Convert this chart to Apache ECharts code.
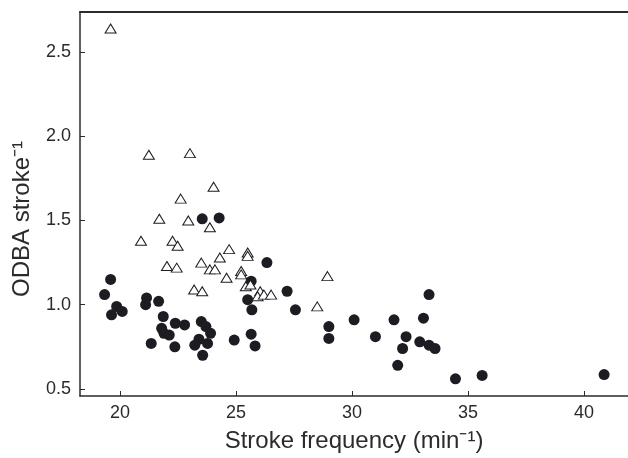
<!DOCTYPE html>
<html>
<head>
<meta charset="utf-8">
<script src="https://cdn.jsdelivr.net/npm/echarts@6/dist/echarts.min.js"></script>
<style>
html,body{margin:0;padding:0;background:#fff;}
#chart{width:628px;height:458px;}
</style>
</head>
<body>
<div id="chart"></div>
<script>
// Open triangles series
const triX = [19.59, 21.24, 23.01, 24.03, 22.61, 21.69, 22.94, 23.87, 20.90, 22.26, 22.48, 24.70, 25.50, 25.50, 24.30, 22.02, 22.44, 23.50, 23.87, 24.09, 25.22, 25.22, 24.59, 25.42, 25.62, 26.04, 25.93, 26.20, 26.51, 23.19, 23.54, 28.94, 28.50];
const triY = [2.64, 1.89, 1.90, 1.70, 1.63, 1.51, 1.50, 1.46, 1.38, 1.38, 1.35, 1.33, 1.31, 1.29, 1.28, 1.23, 1.22, 1.25, 1.21, 1.21, 1.20, 1.18, 1.16, 1.11, 1.12, 1.08, 1.05, 1.06, 1.06, 1.09, 1.08, 1.17, 0.99];
// Filled circles series
const dotX = [23.54, 24.27, 26.33, 19.59, 19.33, 19.85, 19.63, 20.09, 21.14, 21.10, 21.66, 21.86, 21.79, 21.89, 22.12, 22.38, 22.78, 21.34, 22.36, 23.50, 23.70, 23.90, 23.40, 23.77, 23.22, 23.56, 24.92, 25.65, 25.50, 25.68, 25.65, 25.82, 27.20, 27.56, 29.00, 29.00, 30.09, 31.01, 31.81, 31.97, 32.18, 32.33, 32.92, 33.08, 33.32, 33.32, 33.58, 34.46, 35.61, 40.87];
const dotY = [1.51, 1.515, 1.25, 1.15, 1.06, 0.99, 0.94, 0.96, 1.04, 1.00, 1.02, 0.93, 0.86, 0.83, 0.82, 0.89, 0.88, 0.77, 0.75, 0.90, 0.87, 0.83, 0.795, 0.77, 0.76, 0.70, 0.79, 1.14, 1.03, 0.97, 0.825, 0.755, 1.08, 0.97, 0.87, 0.80, 0.91, 0.81, 0.91, 0.64, 0.74, 0.81, 0.78, 0.92, 1.06, 0.76, 0.74, 0.56, 0.58, 0.585];
const xTicks = [20, 25, 30, 35, 40];
const yTicks = [0.5, 1.0, 1.5, 2.0, 2.5];
const xTitle = 'Stroke frequency (min\u207B\u00B9)';
const yTitle = 'ODBA stroke\u207B\u00B9';

const FONT = '"Liberation Sans", Arial, Helvetica, sans-serif';
const TXT = '#2b2b2b';
const AX = '#2b2b2b';

const chart = echarts.init(document.getElementById('chart'), null, {renderer:'canvas'});
chart.setOption({
  animation: false,
  backgroundColor: '#fff',
  grid: {left: 80, top: 12, right: 0, bottom: 62, containLabel: false},
  xAxis: [{
    type: 'value', min: 18.27, max: 41.9,
    name: xTitle, nameLocation: 'middle', nameGap: 33,
    nameTextStyle: {fontFamily: FONT, fontSize: 24, color: TXT},
    axisLine: {show: true, onZero: false, lineStyle: {color: AX, width: 1.5}},
    axisTick: {show: true, inside: true, length: 5, customValues: xTicks, lineStyle: {color: AX, width: 1}},
    axisLabel: {fontFamily: FONT, fontSize: 18, color: TXT, margin: 8, customValues: xTicks,
      formatter: v => String(Math.round(v))},
    splitLine: {show: false}
  }, {
    type: 'value', position: 'top', min: 18.27, max: 41.9,
    axisLine: {show: true, onZero: false, lineStyle: {color: AX, width: 2}},
    axisTick: {show: false}, axisLabel: {show: false}, splitLine: {show: false}
  }],
  yAxis: {
    type: 'value', min: 0.458, max: 2.738,
    name: yTitle, nameLocation: 'middle', nameGap: 46, nameRotate: 90,
    nameTextStyle: {fontFamily: FONT, fontSize: 24, color: TXT, padding: [0, 30, 0, 0]},
    axisLine: {show: true, onZero: false, lineStyle: {color: AX, width: 1.5}},
    axisTick: {show: true, inside: true, length: 5, customValues: yTicks, lineStyle: {color: AX, width: 1}},
    axisLabel: {fontFamily: FONT, fontSize: 18, color: TXT, margin: 9, customValues: yTicks,
      formatter: v => v.toFixed(1)},
    splitLine: {show: false}
  },
  series: [{
    type: 'scatter', name: 'filled', xAxisIndex: 0,
    data: dotX.map((x, i) => [x, dotY[i]]),
    symbol: 'circle', symbolSize: 11,
    itemStyle: {color: '#1c1c22', opacity: 1}
  }, {
    type: 'scatter', name: 'open', xAxisIndex: 0,
    data: triX.map((x, i) => [x, triY[i]]),
    symbol: 'triangle', symbolSize: [11, 9],
    itemStyle: {color: '#ffffff', borderColor: '#1c1c22', borderWidth: 1, opacity: 1}
  }]
});
</script>
</body>
</html>
